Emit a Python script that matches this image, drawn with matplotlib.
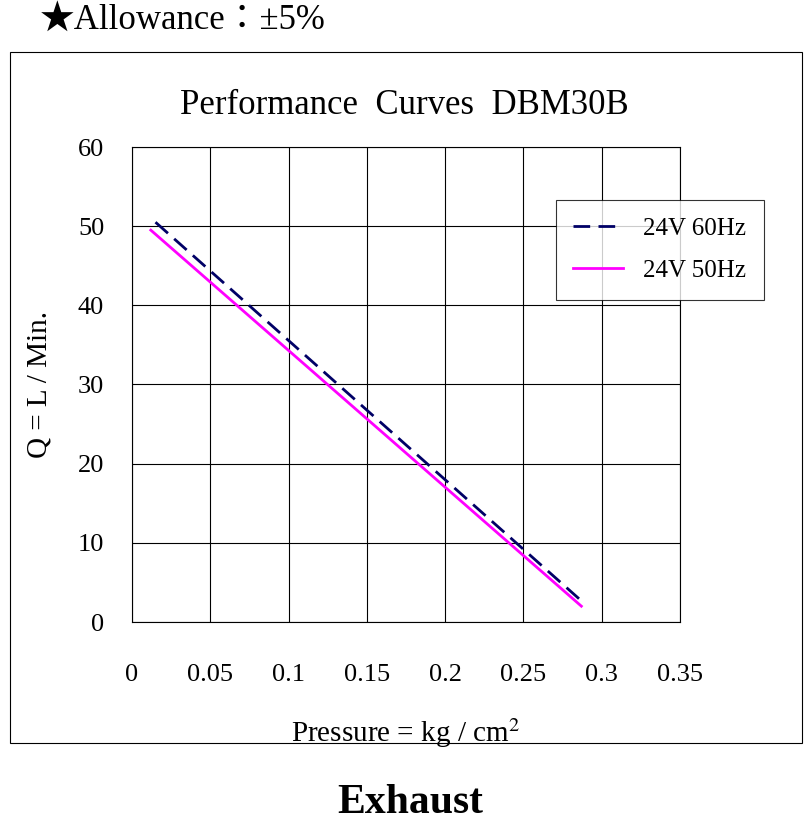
import matplotlib
matplotlib.use("Agg")
import matplotlib.pyplot as plt
from matplotlib.patches import Rectangle

plt.rcParams["font.family"] = ["Liberation Serif", "DejaVu Serif", "Noto Sans CJK JP"]
plt.rcParams["mathtext.fontset"] = "stix"

x60 = [0.015, 0.288]
q60 = [50.5, 2.5]
x50 = [0.012, 0.287]
q50 = [49.5, 2.0]
xticks = [0, 0.05, 0.1, 0.15, 0.2, 0.25, 0.3, 0.35]
xlabels = ["0", "0.05", "0.1", "0.15", "0.2", "0.25", "0.3", "0.35"]
yticks = [0, 10, 20, 30, 40, 50, 60]

W, H = 808, 830
fig = plt.figure(figsize=(W/100, H/100), dpi=100)
fig.patches.append(Rectangle((10/W, 1-743/H), 792/W, 691/H, transform=fig.transFigure,
                             fill=False, edgecolor="black", linewidth=0.8))
ax = fig.add_axes([132/W, 1-622/H, 548/W, 475/H])
ax.plot(x60, q60, color="#000066", linestyle=(0, (6, 3)), linewidth=2, label="24V 60Hz")
ax.plot(x50, q50, color="#FF00FF", linewidth=2, label="24V 50Hz")
ax.set_xlim(0, 0.35)
ax.set_ylim(0, 60)
ax.set_xticks(xticks)
ax.set_xticklabels(xlabels)
ax.set_yticks(yticks)
ax.tick_params(axis="both", length=0, labelsize=19)
ax.tick_params(axis="x", pad=30)
ax.tick_params(axis="y", pad=20)
ax.grid(True, color="black", linewidth=0.8)
for s in ax.spines.values():
    s.set_linewidth(0.8)
ax.set_xlabel("Pressure = kg / cm$^2$", fontsize=21, labelpad=22)
ax.set_ylabel("Q = L / Min.", fontsize=21, labelpad=18)
leg = ax.legend(loc="upper left", bbox_to_anchor=((543-132)/548, (622-187)/475),
                fontsize=18, frameon=True, fancybox=False, edgecolor="black",
                borderpad=0.7, labelspacing=0.8, handlelength=2.0)
leg.get_frame().set_linewidth(0.8)
fig.text(404/W, 1-105/H, "Performance  Curves  DBM30B", fontsize=25, ha="center", va="center")
fig.text(40/W, 1-20/H, "★Allowance：±5%", fontsize=25, ha="left", va="center")
fig.text(410/W, 1-803/H, "Exhaust", fontsize=30, fontweight="bold", ha="center", va="center")
fig.savefig("out.png", dpi=100)
